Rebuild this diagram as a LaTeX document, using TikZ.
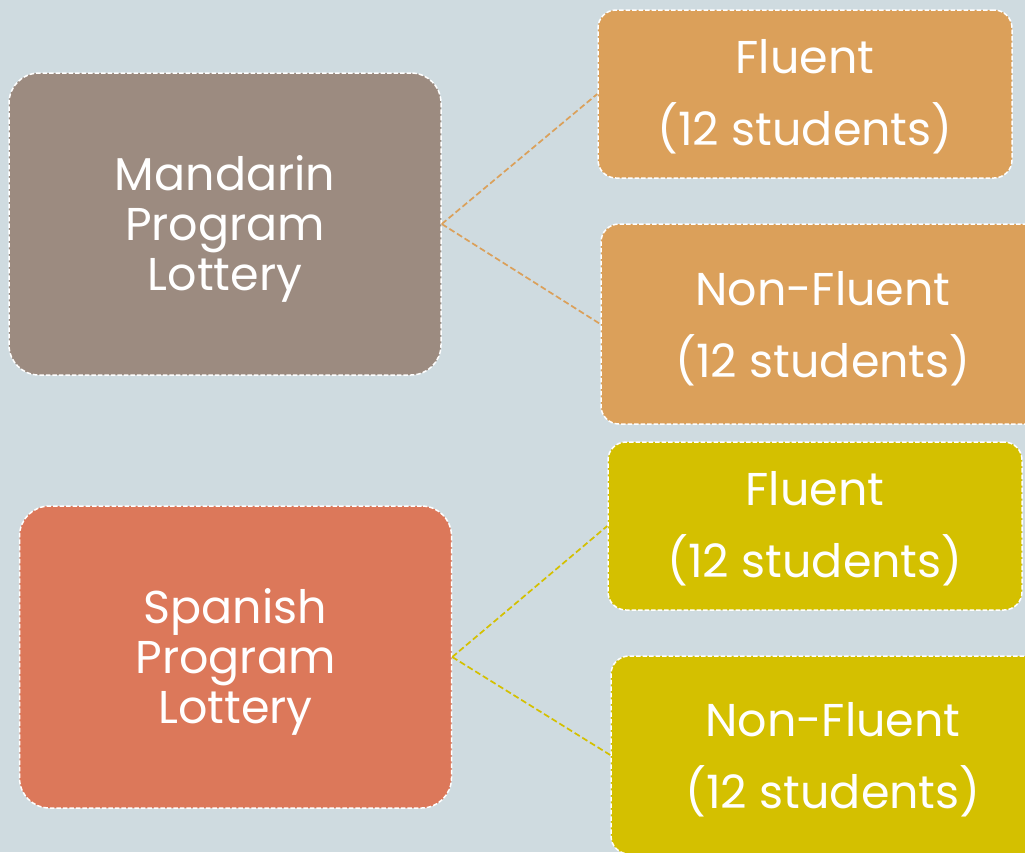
\documentclass[tikz,border=0pt]{standalone}
\usepackage{fontspec}
\setmainfont{Poppins}
\definecolor{bg}{HTML}{CFDBE0}
\definecolor{mand}{HTML}{9C8B80}
\definecolor{span}{HTML}{DC785A}
\definecolor{orng}{HTML}{DBA05A}
\definecolor{yell}{HTML}{D4C000}
\begin{document}
\begin{tikzpicture}[x=1pt,y=-1pt,
  box/.style={draw=white, line width=1.5pt, dash pattern=on 4.5pt off 2pt,
    rectangle, inner sep=0pt},
  bigbox/.style={box, rounded corners=30pt, minimum width=432pt, minimum height=302pt},
  smallbox/.style={box, rounded corners=18pt},
  bigtext/.style={text=white, align=center, inner sep=0pt, font=\fontsize{46}{50}\selectfont},
  smalltext/.style={text=white, align=center, inner sep=0pt, font=\fontsize{46}{72}\selectfont},
  link/.style={line width=1.7pt, dash pattern=on 6pt off 3pt}]
\useasboundingbox (0,0) rectangle (1025,852);
\fill[bg] (0,0) rectangle (1025,852);
\clip (0,0) rectangle (1025,852);
\node[bigbox, fill=mand] (m) at (225,224) {};
\node[bigtext] (mt) at (225,229) {Mandarin\\Program\\Lottery};
\node[bigbox, fill=span] (s) at (235.5,657) {};
\node[bigtext] (st) at (235.5,662) {Spanish\\Program\\Lottery};
\node[smallbox, fill=orng, minimum width=414pt, minimum height=168pt] (mf) at (805,94) {};
\node[smalltext] (mft) at (805,97) {Fluent\\(12 students)};
\node[smallbox, fill=orng, minimum width=444pt, minimum height=200pt] (mn) at (823,324) {};
\node[smalltext] (mnt) at (823,329) {Non-Fluent\\(12 students)};
\node[smallbox, fill=yell, minimum width=414pt, minimum height=168pt] (sf) at (815,526) {};
\node[smalltext] (sft) at (815,529) {Fluent\\(12 students)};
\node[smallbox, fill=yell, minimum width=444pt, minimum height=198pt] (sn) at (833,755) {};
\node[smalltext] (snt) at (833,760) {Non-Fluent\\(12 students)};
\draw[link, orng] (m.east) -- (mf.west);
\draw[link, orng] (m.east) -- (mn.west);
\draw[link, yell] (s.east) -- (sf.west);
\draw[link, yell] (s.east) -- (sn.west);
\end{tikzpicture}
\end{document}
